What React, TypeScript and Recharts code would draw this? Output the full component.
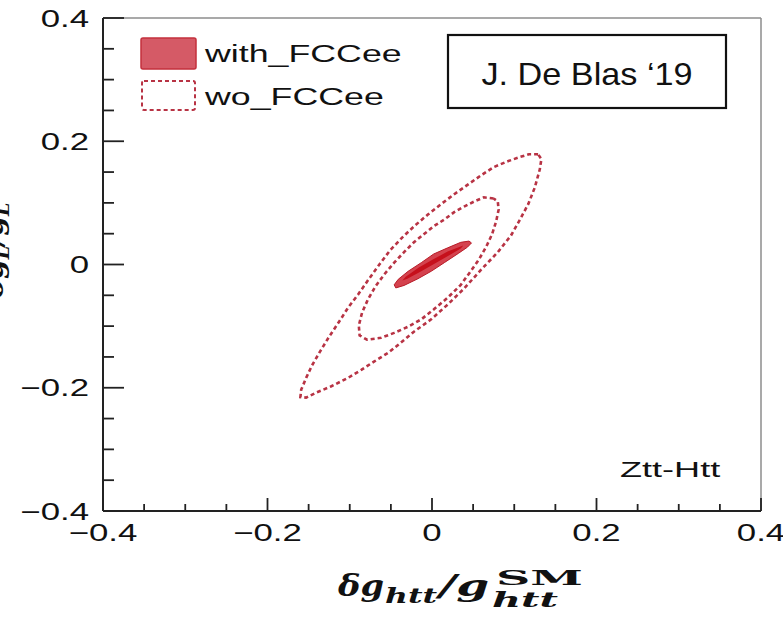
import React from 'react'
import { ScatterChart, Scatter, XAxis, YAxis, ReferenceLine, Customized } from 'recharts'

const ticks = [-0.4, -0.35, -0.3, -0.25, -0.2, -0.15, -0.1, -0.05, 0, 0.05, 0.1, 0.15, 0.2, 0.25, 0.3, 0.35, 0.4]
const majorTicks = [-0.4, -0.2, 0, 0.2, 0.4]

// wo_FCCee, outer contour (clockwise from the top-right tip)
const woOuterX = [0.129, 0.118, 0.106, 0.091, 0.075, 0.06, 0.044, 0.027, 0.011, -0.005, -0.021, -0.036, -0.051, -0.064, -0.077, -0.09, -0.102, -0.113, -0.125, -0.136, -0.146, -0.153, -0.159, -0.16, -0.153, -0.141, -0.123, -0.102, -0.086, -0.071, -0.053, -0.038, -0.022, -0.001, 0.019, 0.039, 0.06, 0.08, 0.096, 0.107, 0.117, 0.125, 0.131, 0.133, 0.129]
const woOuterY = [0.179, 0.179, 0.174, 0.167, 0.158, 0.145, 0.13, 0.114, 0.098, 0.081, 0.063, 0.044, 0.023, 0.0, -0.024, -0.049, -0.07, -0.093, -0.117, -0.141, -0.164, -0.184, -0.203, -0.215, -0.216, -0.208, -0.198, -0.184, -0.171, -0.158, -0.143, -0.127, -0.109, -0.089, -0.065, -0.039, -0.008, 0.02, 0.047, 0.073, 0.098, 0.125, 0.154, 0.171, 0.179]

// wo_FCCee, inner contour
const woInnerX = [0.075, 0.063, 0.051, 0.039, 0.027, 0.015, 0.002, -0.01, -0.022, -0.034, -0.046, -0.058, -0.069, -0.078, -0.085, -0.089, -0.088, -0.079, -0.062, -0.046, -0.029, -0.013, 0.002, 0.019, 0.035, 0.047, 0.057, 0.066, 0.073, 0.078, 0.081, 0.08, 0.075]
const woInnerY = [0.107, 0.109, 0.102, 0.094, 0.085, 0.073, 0.062, 0.049, 0.036, 0.02, 0.003, -0.016, -0.036, -0.057, -0.078, -0.099, -0.115, -0.122, -0.119, -0.111, -0.101, -0.089, -0.073, -0.054, -0.033, -0.011, 0.008, 0.029, 0.049, 0.07, 0.089, 0.102, 0.107]

// with_FCCee, filled region and its darker core
const withX = [0.045, 0.035, 0.019, 0.002, -0.013, -0.029, -0.041, -0.046, -0.044, -0.034, -0.017, -0.001, 0.015, 0.032, 0.043, 0.048]
const withY = [0.038, 0.036, 0.027, 0.017, 0.003, -0.011, -0.024, -0.033, -0.038, -0.034, -0.023, -0.011, 0.003, 0.018, 0.028, 0.035]
const withCoreX = [0.038, 0.019, 0.001, -0.016, -0.032, -0.036, -0.03, -0.013, 0.004, 0.021, 0.035]
const withCoreY = [0.031, 0.021, 0.008, -0.005, -0.02, -0.026, -0.023, -0.011, 0.002, 0.015, 0.026]

const zip = (xs: number[], ys: number[]) => xs.map((x, i) => ({ x, y: ys[i] }))

const red = '#b83344'
const sans = '"Liberation Sans", Arial, sans-serif'
const mathFont = '"DejaVu Serif", serif'
const isMajor = (v: number) => majorTicks.some(m => Math.abs(m - v) < 1e-6)
const fmt = (v: number) => (Math.abs(v) < 1e-9 ? '0' : v < 0 ? '\u2212' + Math.abs(v) : String(v))

function Txt({ x, y, sx = 1.45, anchor = 'start', size = 24, children, ...rest }: any) {
  return <text transform={`translate(${x} ${y}) scale(${sx} 1)`} textAnchor={anchor} fontSize={size} fontFamily={sans} fill="#111" {...rest}>{children}</text>
}

// math piece squeezed to the width it has in the picture
function M({ x, y, w, size, children, ...rest }: any) {
  return <text x={x} y={y} fontSize={size} textLength={w} lengthAdjust="spacingAndGlyphs" {...rest}>{children}</text>
}

function XTick({ x, y, payload }: any) {
  const v = payload.value
  const ay = y - 14
  return <g>
    <line x1={x} x2={x} y1={ay} y2={ay - (isMajor(v) ? 13 : 7)} stroke="#222" strokeWidth={1.8} />
    {isMajor(v) && <Txt x={x} y={ay + 30} anchor="middle">{fmt(v)}</Txt>}
  </g>
}

function YTick({ x, y, payload }: any) {
  const v = payload.value
  const ax = x + 14
  return <g>
    <line x1={ax} x2={ax + (isMajor(v) ? 21 : 11)} y1={y} y2={y} stroke="#222" strokeWidth={1.8} />
    {isMajor(v) && <Txt x={x} y={y + 8.5} anchor="end">{fmt(v)}</Txt>}
  </g>
}

const filled = (fill: string, stroke: string) => (p: any) =>
  <path d={p.points.map((pt: any, i: number) => `${i ? 'L' : 'M'}${pt.x},${pt.y}`).join(' ') + ' Z'} fill={fill} stroke={stroke} strokeWidth={1} />

function Overlay() {
  return <g>
    {/* legend */}
    <rect x={141} y={38} width={55} height={31} rx={2} fill="#d55a66" stroke="#c4303c" strokeWidth={1.5} />
    <rect x={142} y={81} width={53} height={29} rx={2} fill="none" stroke={red} strokeWidth={2} strokeDasharray="4 3" />
    <Txt x={205} y={62} sx={1.49}>with_FCCee</Txt>
    <Txt x={205} y={105} sx={1.49}>wo_FCCee</Txt>
    {/* credit box */}
    <rect x={448} y={35} width={278} height={73} fill="#fff" stroke="#111" strokeWidth={2.2} />
    <Txt x={587} y={85} sx={1.07} size={32} anchor="middle">J. De Blas ‘19</Txt>
    <Txt x={620} y={477} sx={1.64} size={22}>Ztt-Htt</Txt>
    {/* x title */}
    <g fontFamily={mathFont} fontWeight="bold" fontStyle="italic" fill="#111">
      <M x={338} y={596} w={46} size={30}>δg</M>
      <M x={385} y={603} w={52} size={21}>htt</M>
      <M x={439} y={596} w={50} size={30}>/g</M>
      <M x={492} y={607} w={66} size={21}>htt</M>
      <M x={496} y={585} w={87} size={20} fontStyle="normal">SM</M>
      {/* y title, mostly outside the frame */}
      <text transform="translate(3 250) rotate(-90)" fontSize={28} textAnchor="middle">δg<tspan fontSize={19} dy={6}>L</tspan><tspan dy={-6}>/g</tspan><tspan fontSize={19} dy={6}>L</tspan></text>
    </g>
  </g>
}

export default function App() {
  return <div style={{ position: 'absolute', left: 0, top: 0, width: 783, height: 617, background: '#fff' }}>
    <ScatterChart width={783} height={617} margin={{ top: 18, right: 22, bottom: 0, left: 0 }}>
      <XAxis type="number" dataKey="x" domain={[-0.4, 0.4]} ticks={ticks} interval={0} allowDataOverflow height={106}
        tickSize={0} tickMargin={14} tickLine={false} axisLine={{ stroke: '#222', strokeWidth: 2 }} tick={<XTick />} />
      <YAxis type="number" dataKey="y" domain={[-0.4, 0.4]} ticks={ticks} interval={0} allowDataOverflow width={103}
        tickSize={0} tickMargin={14} tickLine={false} axisLine={{ stroke: '#222', strokeWidth: 2 }} tick={<YTick />} />
      <ReferenceLine y={0.4} stroke="#8c8c8c" strokeWidth={1.5} />
      <ReferenceLine x={0.4} stroke="#8c8c8c" strokeWidth={1.5} />
      <Scatter data={zip(woOuterX, woOuterY)} isAnimationActive={false} fill={red} shape={() => <g />}
        line={{ stroke: red, strokeWidth: 2.6, strokeDasharray: '4 3' }} lineJointType="linear" />
      <Scatter data={zip(woInnerX, woInnerY)} isAnimationActive={false} fill={red} shape={() => <g />}
        line={{ stroke: red, strokeWidth: 2.6, strokeDasharray: '4 3' }} lineJointType="linear" />
      <Scatter data={zip(withX, withY)} isAnimationActive={false} fill="#d4424e" shape={() => <g />}
        line={filled('#d4424e', '#b81c28')} />
      <Scatter data={zip(withCoreX, withCoreY)} isAnimationActive={false} fill="#c6101c" shape={() => <g />}
        line={filled('#c6101c', 'none')} />
      <Customized component={<Overlay />} />
    </ScatterChart>
  </div>
}
